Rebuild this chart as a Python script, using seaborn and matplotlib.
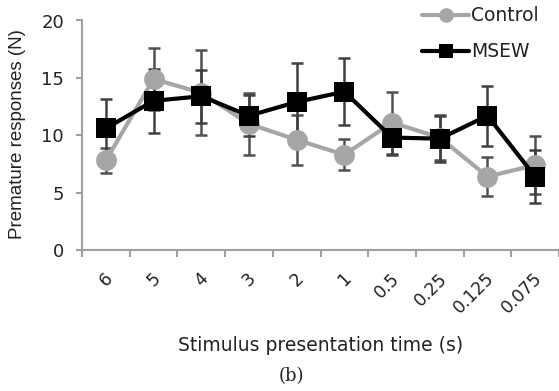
import matplotlib
matplotlib.use("Agg")
import matplotlib.pyplot as plt
import matplotlib.transforms as mtransforms
import seaborn as sns
import pandas as pd
import numpy as np

categories = ["6", "5", "4", "3", "2", "1", "0.5", "0.25", "0.125", "0.075"]
control_mean = [7.8, 14.9, 13.7, 11.0, 9.6, 8.3, 11.1, 9.8, 6.4, 7.4]
control_err = [1.1, 2.7, 3.7, 2.7, 2.2, 1.35, 2.7, 2.0, 1.7, 2.5]
msew_mean = [10.6, 13.0, 13.4, 11.7, 12.9, 13.8, 9.8, 9.7, 11.7, 6.4]
msew_err = [2.6, 2.8, 2.3, 1.8, 3.4, 2.9, 1.5, 2.0, 2.6, 2.3]
groups = ["Control", "MSEW"]

sns.set_style("white")
plt.rcParams['font.family'] = ['DejaVu Sans']

pos = np.arange(len(categories))
df = pd.DataFrame({
    "pos": np.concatenate([pos, pos]),
    "value": control_mean + msew_mean,
    "group": [groups[0]] * len(categories) + [groups[1]] * len(categories),
})

fig = plt.figure(figsize=(5.59, 3.91), dpi=100)
ax = fig.add_axes([82 / 559, (391 - 250) / 391, 477 / 559, 229.5 / 391])

colors = {"Control": "#A6A6A6", "MSEW": "#000000"}

ax.errorbar(pos, control_mean, yerr=control_err, fmt="none", ecolor="#505050",
            elinewidth=1.8, capsize=4.5, capthick=1.8, zorder=1.5)
ax.errorbar(pos, msew_mean, yerr=msew_err, fmt="none", ecolor="#404040",
            elinewidth=1.8, capsize=4.5, capthick=1.8, zorder=1.5)

sns.lineplot(data=df, x="pos", y="value", hue="group", style="group",
             hue_order=groups, style_order=groups,
             markers={"Control": "o", "MSEW": "s"}, dashes=False,
             palette=colors, markersize=15, linewidth=3,
             markeredgewidth=0, ax=ax, zorder=2)

ax.set_xlim(-0.5, len(categories) - 0.5)
ax.set_ylim(0, 20)
ax.set_yticks([0, 5, 10, 15, 20])
ax.set_xticks(pos)
ax.set_xticklabels(categories, rotation=45, ha="right", rotation_mode="anchor",
                   fontsize=12.5, color="#222222")
ax.set_xticks(np.arange(-0.5, len(categories), 1.0), minor=True)
ax.tick_params(axis="x", which="major", length=0, pad=14)
ax.tick_params(axis="x", which="minor", length=5, width=1.5, color="#A0A0A0", direction="out")
ax.tick_params(axis="y", which="major", length=4, width=1.5, color="#A0A0A0",
               direction="out", labelsize=13, labelcolor="#222222", pad=9)
ax.tick_params(bottom=True, left=True, which="both")
ax.xaxis.set_tick_params(which="major", bottom=False)

offset = mtransforms.ScaledTranslation(-2 / 100, 0, fig.dpi_scale_trans)
for lbl in ax.get_xticklabels():
    lbl.set_transform(lbl.get_transform() + offset)

for s in ["top", "right"]:
    ax.spines[s].set_visible(False)
for s in ["left", "bottom"]:
    ax.spines[s].set_color("#A0A0A0")
    ax.spines[s].set_linewidth(1.5)

ax.set_xlabel("Stimulus presentation time (s)", fontsize=13.5, color="#222222")
ax.xaxis.set_label_coords(0.5, -0.375)
ax.set_ylabel("Premature responses (N)", fontsize=13.5, color="#222222",
              family=["Liberation Sans", "DejaVu Sans"])
ax.yaxis.set_label_coords(-0.117, 0.505)

handles, labels = ax.get_legend_handles_labels()
leg = ax.legend(handles, labels, loc="upper left",
                bbox_to_anchor=(413 / 559, 1.008), bbox_transform=fig.transFigure,
                frameon=False, fontsize=13.5, handlelength=2.5, handletextpad=0.1,
                labelspacing=0.9, borderpad=0, markerscale=0.7)
for t in leg.get_texts():
    t.set_color("#222222")

fig.text(291 / 559, 1 - 376 / 391, "(b)", ha="center", va="center",
         fontsize=13, family=["DejaVu Serif"], color="#222222")

fig.savefig("out.png", dpi=100)
